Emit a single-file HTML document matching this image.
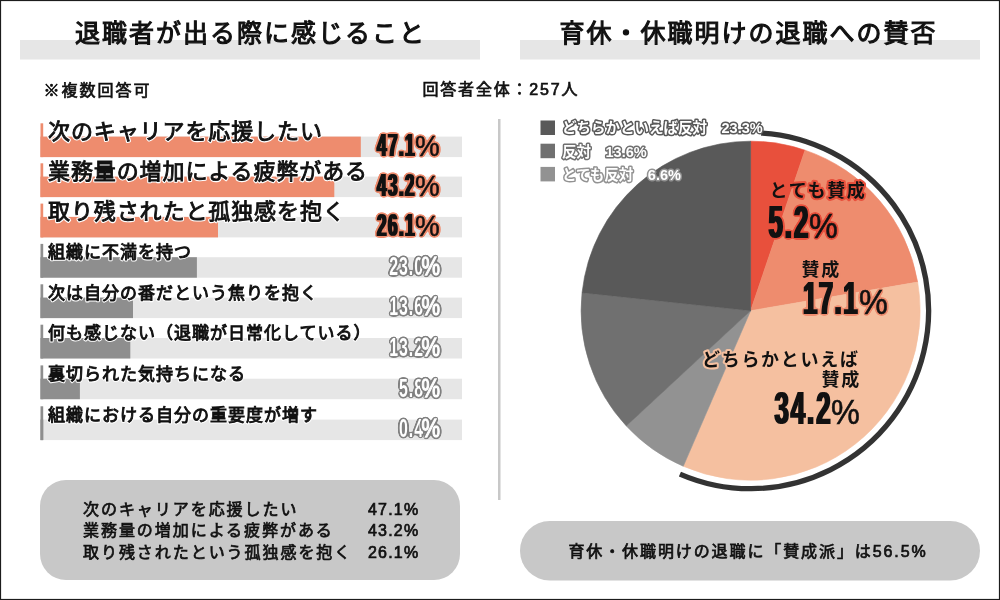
<!DOCTYPE html>
<html lang="ja">
<head>
<meta charset="utf-8">
<title>退職者が出る際に感じること</title>
<style>
html,body{margin:0;padding:0;background:#fff;}
body{width:1000px;height:600px;overflow:hidden;}
svg{display:block;}
text{font-family:"Liberation Sans", "Noto Sans CJK JP", sans-serif;}
.t{font-size:25px;font-weight:400;letter-spacing:2.0px;fill:#111;stroke:#111;stroke-width:1.1px;}
.s{font-size:16px;font-weight:400;letter-spacing:1.2px;fill:#111;stroke:#111;stroke-width:0.7px;}
.l1{font-size:22px;font-weight:400;letter-spacing:0.9px;fill:#111;stroke:#111;stroke-width:0.9px;}
.l1w{font-size:22px;font-weight:400;letter-spacing:0.9px;fill:#fff;stroke:#fff;stroke-width:3.2px;stroke-linejoin:round;}
.l2{font-size:17px;font-weight:400;letter-spacing:1.0px;fill:#111;stroke:#111;stroke-width:0.95px;}
.l2w{font-size:17px;font-weight:400;letter-spacing:1.0px;fill:#fff;stroke:#fff;stroke-width:3px;stroke-linejoin:round;}
.lg{font-size:14.5px;font-weight:700;fill:#fff;stroke-width:3px;paint-order:stroke;stroke-linejoin:round;}
.pl{font-size:18px;font-weight:700;letter-spacing:1.7px;fill:#111;stroke-width:4px;paint-order:stroke;stroke-linejoin:round;}
.n{font-family:"Liberation Sans",sans-serif;font-weight:700;}
.pc{font-family:"Liberation Sans",sans-serif;font-weight:400;fill:#111;}
</style>
</head>
<body>
<svg width="1000" height="600" viewBox="0 0 1000 600">
<defs>
<filter id="fo" x="-10%" y="-20%" width="120%" height="140%" color-interpolation-filters="sRGB">
<feMorphology in="SourceAlpha" operator="dilate" radius="1 0" result="b"/>
<feGaussianBlur in="b" stdDeviation="1.6" result="bl"/>
<feComponentTransfer in="bl" result="th"><feFuncA type="linear" slope="12" intercept="-0.8"/></feComponentTransfer>
<feFlood flood-color="#EE8C6E"/><feComposite in2="th" operator="in" result="ol"/>
<feFlood flood-color="#111"/><feComposite in2="b" operator="in" result="bk"/>
<feMerge><feMergeNode in="ol"/><feMergeNode in="bk"/></feMerge>
</filter>
<filter id="fr" x="-10%" y="-20%" width="120%" height="140%" color-interpolation-filters="sRGB">
<feMorphology in="SourceAlpha" operator="dilate" radius="1 0" result="b"/>
<feGaussianBlur in="b" stdDeviation="1.6" result="bl"/>
<feComponentTransfer in="bl" result="th"><feFuncA type="linear" slope="12" intercept="-0.8"/></feComponentTransfer>
<feFlood flood-color="#E8503C"/><feComposite in2="th" operator="in" result="ol"/>
<feFlood flood-color="#111"/><feComposite in2="b" operator="in" result="bk"/>
<feMerge><feMergeNode in="ol"/><feMergeNode in="bk"/></feMerge>
</filter>
<filter id="fp" x="-10%" y="-20%" width="120%" height="140%" color-interpolation-filters="sRGB">
<feMorphology in="SourceAlpha" operator="dilate" radius="1 0" result="b"/>
<feGaussianBlur in="b" stdDeviation="1.6" result="bl"/>
<feComponentTransfer in="bl" result="th"><feFuncA type="linear" slope="12" intercept="-0.8"/></feComponentTransfer>
<feFlood flood-color="#F5C0A0"/><feComposite in2="th" operator="in" result="ol"/>
<feFlood flood-color="#111"/><feComposite in2="b" operator="in" result="bk"/>
<feMerge><feMergeNode in="ol"/><feMergeNode in="bk"/></feMerge>
</filter>
<filter id="fg" x="-10%" y="-20%" width="120%" height="140%" color-interpolation-filters="sRGB">
<feGaussianBlur in="SourceAlpha" stdDeviation="1.4" result="bl"/>
<feComponentTransfer in="bl" result="th"><feFuncA type="linear" slope="12" intercept="-0.8"/></feComponentTransfer>
<feFlood flood-color="#808080"/><feComposite in2="th" operator="in" result="ol"/>
<feFlood flood-color="#fff"/><feComposite in2="SourceAlpha" operator="in" result="bk"/>
<feMerge><feMergeNode in="ol"/><feMergeNode in="bk"/></feMerge>
</filter>
<filter id="frp" x="-10%" y="-20%" width="120%" height="140%" color-interpolation-filters="sRGB">
<feGaussianBlur in="SourceAlpha" stdDeviation="1.5" result="bl"/>
<feComponentTransfer in="bl" result="th"><feFuncA type="linear" slope="12" intercept="-0.8"/></feComponentTransfer>
<feFlood flood-color="#E8503C"/><feComposite in2="th" operator="in" result="ol"/>
<feMerge><feMergeNode in="ol"/><feMergeNode in="SourceGraphic"/></feMerge>
</filter>
<filter id="fop" x="-10%" y="-20%" width="120%" height="140%" color-interpolation-filters="sRGB">
<feGaussianBlur in="SourceAlpha" stdDeviation="1.5" result="bl"/>
<feComponentTransfer in="bl" result="th"><feFuncA type="linear" slope="12" intercept="-0.8"/></feComponentTransfer>
<feFlood flood-color="#EE8C6E"/><feComposite in2="th" operator="in" result="ol"/>
<feMerge><feMergeNode in="ol"/><feMergeNode in="SourceGraphic"/></feMerge>
</filter>
<filter id="fpp" x="-10%" y="-20%" width="120%" height="140%" color-interpolation-filters="sRGB">
<feGaussianBlur in="SourceAlpha" stdDeviation="1.5" result="bl"/>
<feComponentTransfer in="bl" result="th"><feFuncA type="linear" slope="12" intercept="-0.8"/></feComponentTransfer>
<feFlood flood-color="#F5C0A0"/><feComposite in2="th" operator="in" result="ol"/>
<feMerge><feMergeNode in="ol"/><feMergeNode in="SourceGraphic"/></feMerge>
</filter>
</defs>
<rect x="0" y="0" width="1000" height="600" fill="#fff"/>
<rect x="0.55" y="0.55" width="998.9" height="598.9" fill="none" stroke="#1c1c1c" stroke-width="1.1"/>
<rect x="20" y="40" width="460" height="19.5" fill="#e6e6e6"/>
<rect x="520" y="40" width="460" height="19.5" fill="#e6e6e6"/>
<text class="t" x="250.5" y="42" text-anchor="middle">退職者が出る際に感じること</text>
<text class="t" x="748.5" y="42" text-anchor="middle">育休・休職明けの退職への賛否</text>
<text class="s" style="letter-spacing:2px" x="43.5" y="96">※複数回答可</text>
<text class="s" style="letter-spacing:1.8px" x="422.5" y="95">回答者全体：257人</text>
<rect x="498" y="119" width="2.5" height="381" fill="#c8c8c8"/>
<rect x="40.5" y="136.6" width="421.5" height="20.5" fill="#e6e6e6"/>
<rect x="40.5" y="123.3" width="2.7" height="33.8" fill="#EE8C6E"/>
<rect x="40.5" y="136.6" width="320.3" height="20.5" fill="#EE8C6E"/>
<text class="l1w" x="48" y="138.8">次のキャリアを応援したい</text>
<text class="l1" x="48" y="138.8">次のキャリアを応援したい</text>
<rect x="40.5" y="176.6" width="421.5" height="20.5" fill="#e6e6e6"/>
<rect x="40.5" y="163.3" width="2.7" height="33.8" fill="#EE8C6E"/>
<rect x="40.5" y="176.6" width="293.8" height="20.5" fill="#EE8C6E"/>
<text class="l1w" x="48" y="178.8">業務量の増加による疲弊がある</text>
<text class="l1" x="48" y="178.8">業務量の増加による疲弊がある</text>
<rect x="40.5" y="216.9" width="421.5" height="20.5" fill="#e6e6e6"/>
<rect x="40.5" y="203.6" width="2.7" height="33.8" fill="#EE8C6E"/>
<rect x="40.5" y="216.9" width="177.5" height="20.5" fill="#EE8C6E"/>
<text class="l1w" x="48" y="219.1">取り残されたと孤独感を抱く</text>
<text class="l1" x="48" y="219.1">取り残されたと孤独感を抱く</text>
<rect x="40.5" y="257.2" width="421.5" height="20.5" fill="#e6e6e6"/>
<rect x="40.5" y="243.9" width="2.7" height="33.8" fill="#8e8e8e"/>
<rect x="40.5" y="257.2" width="156.4" height="20.5" fill="#8e8e8e"/>
<text class="l2w" x="48" y="258.2">組織に不満を持つ</text>
<text class="l2" x="48" y="258.2">組織に不満を持つ</text>
<rect x="40.5" y="297.6" width="421.5" height="20.5" fill="#e6e6e6"/>
<rect x="40.5" y="284.3" width="2.7" height="33.8" fill="#8e8e8e"/>
<rect x="40.5" y="297.6" width="92.5" height="20.5" fill="#8e8e8e"/>
<text class="l2w" x="48" y="298.6">次は自分の番だという焦りを抱く</text>
<text class="l2" x="48" y="298.6">次は自分の番だという焦りを抱く</text>
<rect x="40.5" y="338.0" width="421.5" height="20.5" fill="#e6e6e6"/>
<rect x="40.5" y="324.7" width="2.7" height="33.8" fill="#8e8e8e"/>
<rect x="40.5" y="338.0" width="89.8" height="20.5" fill="#8e8e8e"/>
<text class="l2w" x="48" y="339.0">何も感じない（退職が日常化している）</text>
<text class="l2" x="48" y="339.0">何も感じない（退職が日常化している）</text>
<rect x="40.5" y="378.7" width="421.5" height="20.5" fill="#e6e6e6"/>
<rect x="40.5" y="365.4" width="2.7" height="33.8" fill="#8e8e8e"/>
<rect x="40.5" y="378.7" width="39.4" height="20.5" fill="#8e8e8e"/>
<text class="l2w" x="48" y="379.7">裏切られた気持ちになる</text>
<text class="l2" x="48" y="379.7">裏切られた気持ちになる</text>
<rect x="40.5" y="419.6" width="421.5" height="20.5" fill="#e6e6e6"/>
<rect x="40.5" y="406.3" width="2.7" height="33.8" fill="#8e8e8e"/>
<rect x="40.5" y="419.6" width="2.7" height="20.5" fill="#8e8e8e"/>
<text class="l2w" x="48" y="420.6">組織における自分の重要度が増す</text>
<text class="l2" x="48" y="420.6">組織における自分の重要度が増す</text>
<g filter="url(#fo)"><text class="n" font-size="31" letter-spacing="2.6" transform="translate(416,155.6) scale(0.55,1)" text-anchor="end">47.1</text></g>
<g filter="url(#fop)"><text class="pc" font-size="30" stroke="#111" stroke-width="0.5" transform="translate(415,155.6) scale(0.93,1)">%</text></g>
<g filter="url(#fo)"><text class="n" font-size="31" letter-spacing="2.6" transform="translate(416,195.6) scale(0.55,1)" text-anchor="end">43.2</text></g>
<g filter="url(#fop)"><text class="pc" font-size="30" stroke="#111" stroke-width="0.5" transform="translate(415,195.6) scale(0.93,1)">%</text></g>
<g filter="url(#fo)"><text class="n" font-size="31" letter-spacing="2.6" transform="translate(416,235.9) scale(0.55,1)" text-anchor="end">26.1</text></g>
<g filter="url(#fop)"><text class="pc" font-size="30" stroke="#111" stroke-width="0.5" transform="translate(415,235.9) scale(0.93,1)">%</text></g>
<g filter="url(#fg)"><text class="n" font-size="26.5" letter-spacing="1.6" transform="translate(424,275.0) scale(0.6,1)" text-anchor="end">23.0</text></g>
<g filter="url(#fg)"><text class="pc" font-size="25.5" stroke="#111" stroke-width="1.3" transform="translate(421.5,275.0) scale(0.82,1)">%</text></g>
<g filter="url(#fg)"><text class="n" font-size="26.5" letter-spacing="1.6" transform="translate(424,315.4) scale(0.6,1)" text-anchor="end">13.6</text></g>
<g filter="url(#fg)"><text class="pc" font-size="25.5" stroke="#111" stroke-width="1.3" transform="translate(421.5,315.4) scale(0.82,1)">%</text></g>
<g filter="url(#fg)"><text class="n" font-size="26.5" letter-spacing="1.6" transform="translate(424,355.8) scale(0.6,1)" text-anchor="end">13.2</text></g>
<g filter="url(#fg)"><text class="pc" font-size="25.5" stroke="#111" stroke-width="1.3" transform="translate(421.5,355.8) scale(0.82,1)">%</text></g>
<g filter="url(#fg)"><text class="n" font-size="26.5" letter-spacing="1.6" transform="translate(424,396.5) scale(0.6,1)" text-anchor="end">5.8</text></g>
<g filter="url(#fg)"><text class="pc" font-size="25.5" stroke="#111" stroke-width="1.3" transform="translate(421.5,396.5) scale(0.82,1)">%</text></g>
<g filter="url(#fg)"><text class="n" font-size="26.5" letter-spacing="1.6" transform="translate(424,437.4) scale(0.6,1)" text-anchor="end">0.4</text></g>
<g filter="url(#fg)"><text class="pc" font-size="25.5" stroke="#111" stroke-width="1.3" transform="translate(421.5,437.4) scale(0.82,1)">%</text></g>
<rect x="40" y="480" width="420" height="100" rx="26" ry="26" fill="#c8c8c8"/>
<rect x="520" y="521" width="460" height="59.5" rx="29.75" ry="29.75" fill="#c8c8c8"/>
<text class="s" style="letter-spacing:1.95px" x="83" y="514.5">次のキャリアを応援したい</text>
<text class="s" style="letter-spacing:1.2px" x="368" y="514.5">47.1%</text>
<text class="s" style="letter-spacing:1.95px" x="83" y="536.2">業務量の増加による疲弊がある</text>
<text class="s" style="letter-spacing:1.2px" x="368" y="536.2">43.2%</text>
<text class="s" style="letter-spacing:1.95px" x="83" y="557.9">取り残されたという孤独感を抱く</text>
<text class="s" style="letter-spacing:1.2px" x="368" y="557.9">26.1%</text>
<text class="s" style="letter-spacing:1.9px" x="748" y="557" text-anchor="middle">育休・休職明けの退職に「賛成派」は56.5%</text>
<path d="M750.6,310.7 L750.60,141.20 A169.5,169.5 0 0 1 805.00,150.17 Z" fill="#E8503C" stroke="#E8503C" stroke-width="0.6"/>
<path d="M750.6,310.7 L805.00,150.17 A169.5,169.5 0 0 1 917.67,282.08 Z" fill="#EE8C6E" stroke="#EE8C6E" stroke-width="0.6"/>
<path d="M750.6,310.7 L917.67,282.08 A169.5,169.5 0 0 1 683.28,466.26 Z" fill="#F5C0A0" stroke="#F5C0A0" stroke-width="0.6"/>
<path d="M750.6,310.7 L683.28,466.26 A169.5,169.5 0 0 1 626.31,425.95 Z" fill="#929292" stroke="#929292" stroke-width="0.6"/>
<path d="M750.6,310.7 L626.31,425.95 A169.5,169.5 0 0 1 582.07,292.63 Z" fill="#707070" stroke="#707070" stroke-width="0.6"/>
<path d="M750.6,310.7 L582.07,292.63 A169.5,169.5 0 0 1 750.60,141.20 Z" fill="#595959" stroke="#595959" stroke-width="0.6"/>
<path d="M761.22,133.02 A178,178 0 1 1 679.91,474.06" fill="none" stroke="#333" stroke-width="5.3"/>
<rect x="540.5" y="120.5" width="14.5" height="14.5" fill="#595959"/>
<text class="lg" x="562" y="133.3" stroke="#595959">どちらかといえば反対　23.3%</text>
<rect x="540.5" y="143.7" width="14.5" height="14.5" fill="#707070"/>
<text class="lg" x="562" y="156.5" stroke="#707070">反対　13.6%</text>
<rect x="540.5" y="166.9" width="14.5" height="14.5" fill="#929292"/>
<text class="lg" x="562" y="179.7" stroke="#929292">とても反対　6.6%</text>
 <text class="pl" x="769.5" y="197" stroke="#E8503C">とても賛成</text>
 <text class="pl" x="801.5" y="276" stroke="#EE8C6E">賛成</text>
 <text class="pl" x="702" y="366" stroke="#F5C0A0">どちらかといえば</text>
 <text class="pl" x="821.5" y="386" stroke="#F5C0A0">賛成</text>
<g filter="url(#fr)"><text class="n" font-size="46" letter-spacing="3.5" transform="translate(768.5,237.5) scale(0.56,1)">5.2</text></g>
<g filter="url(#frp)"><text class="pc" font-size="36" stroke="#111" stroke-width="0.6" transform="translate(809,237.5) scale(0.9,1)">%</text></g>
<g filter="url(#fo)"><text class="n" font-size="46" letter-spacing="2.6" transform="translate(803,314) scale(0.56,1)">17.1</text></g>
<g filter="url(#fop)"><text class="pc" font-size="36" stroke="#111" stroke-width="0.6" transform="translate(859,314) scale(0.9,1)">%</text></g>
<g filter="url(#fp)"><text class="n" font-size="46" letter-spacing="3.5" transform="translate(774.5,424) scale(0.56,1)">34.2</text></g>
<g filter="url(#fpp)"><text class="pc" font-size="36" stroke="#111" stroke-width="0.6" transform="translate(831,424) scale(0.9,1)">%</text></g>
</svg>
</body>
</html>
